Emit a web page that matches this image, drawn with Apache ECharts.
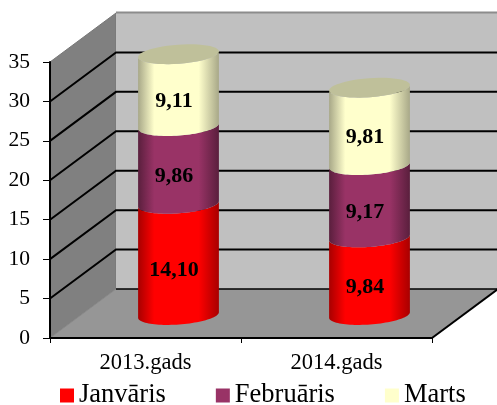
<!DOCTYPE html>
<html><head><meta charset="utf-8">
<style>html,body{margin:0;padding:0;background:#fff}#c{width:497px;height:405px}</style>
<script src="https://cdn.jsdelivr.net/npm/echarts@6/dist/echarts.min.js"></script></head>
<body><div id="c"></div><script>
const categories = ['2013.gads', '2014.gads'];
const janvaris = [14.10, 9.84];
const februaris = [9.86, 9.17];
const marts = [9.11, 9.81];
const labelsJan = ['14,10', '9,84'];
const labelsFeb = ['9,86', '9,17'];
const labelsMar = ['9,11', '9,81'];
const yTicks = [0, 5, 10, 15, 20, 25, 30, 35];

const FONT = '"Liberation Serif","Times New Roman",serif';
const DX = 66, DY = 49;          // depth of the 3D box
const CX = 33, CY = 23;          // cylinder centre offset inside the box
const RX = 40.5, RY = 9.5, TILT = 4.2 * Math.PI / 180;

function ePoint(cx, cy, t) {
  const x = RX * Math.cos(t), y = RY * Math.sin(t);
  return [cx + x * Math.cos(TILT) + y * Math.sin(TILT), cy - x * Math.sin(TILT) + y * Math.cos(TILT)];
}
function arc(cx, cy, from, to) {
  const pts = [];
  for (let i = 0; i <= 48; i++) pts.push(ePoint(cx, cy, from + (to - from) * i / 48));
  return pts;
}
function cylGrad(edge, mid) {
  return { type: 'linear', x: 0, y: 0, x2: 1, y2: 0, colorStops: [
    { offset: 0, color: edge }, { offset: 0.2, color: mid }, { offset: 0.5, color: mid },
    { offset: 0.75, color: mid }, { offset: 1, color: edge }] };
}
function segment(values, bases, labels, edge, mid, cap) {
  return function (params, api) {
    const i = params.dataIndex;
    const p0 = api.coord([categories[i], bases[i]]);
    const p1 = api.coord([categories[i], bases[i] + values[i]]);
    const cx = p0[0] + CX, yb = p0[1] - CY, yt = p1[1] - CY;
    const children = [{
      type: 'polygon',
      shape: { points: arc(cx, yt, Math.PI, 0).concat(arc(cx, yb, 0, Math.PI)) },
      style: { fill: cylGrad(edge, mid) }
    }];
    if (cap) children.push({
      type: 'polygon', shape: { points: arc(cx, yt, 0, 2 * Math.PI) }, style: { fill: cap }
    });
    children.push({
      type: 'text', z2: 10,
      style: { x: cx - 4.5, y: (yb + yt) / 2 + 11, text: labels[i], align: 'center', verticalAlign: 'middle',
        font: 'bold 22px ' + FONT, fill: '#000' }
    });
    return { type: 'group', children };
  };
}
function frame(params, api) {
  const band = api.size([1, 0])[0];
  const o = api.coord([categories[0], 0]);
  const top = api.coord([categories[0], 35])[1];
  const x0 = o[0] - band / 2, x1 = x0 + band * categories.length, y0 = o[1];
  const children = [
    { type: 'polygon', shape: { points: [[x0, y0], [x0, top], [x0 + DX, top - DY], [x0 + DX, y0 - DY]] },
      style: { fill: '#808080', stroke: '#777', lineWidth: 1 } },
    { type: 'rect', shape: { x: x0 + DX, y: top - DY, width: x1 - x0, height: y0 - top },
      style: { fill: '#c0c0c0' } },
    { type: 'polygon', shape: { points: [[x0, y0], [x1, y0], [x1 + DX, y0 - DY], [x0 + DX, y0 - DY]] },
      style: { fill: '#969696' } },
    { type: 'line', shape: { x1: x0 + DX, y1: top - DY - 0.5, x2: x1 + DX, y2: top - DY - 0.5 },
      style: { stroke: '#8c8c8c', lineWidth: 2 } },
    { type: 'line', shape: { x1: x1, y1: y0, x2: x1 + DX, y2: y0 - DY }, style: { stroke: '#000', lineWidth: 2 } },
    { type: 'line', shape: { x1: x0, y1: y0, x2: x0 + DX, y2: y0 - DY }, style: { stroke: '#8a8a8a', lineWidth: 1 } }
  ];
  yTicks.forEach(t => {
    if (t === 0 || t === 35) return;
    const y = api.coord([categories[0], t])[1];
    children.push({ type: 'polyline', shape: { points: [[x0, y], [x0 + DX, y - DY], [x1 + DX, y - DY]] },
      style: { fill: 'none', stroke: '#000', lineWidth: 2 } });
  });
  children.push({ type: 'line', shape: { x1: x0 + DX, y1: y0 - DY, x2: x1 + DX, y2: y0 - DY },
    style: { stroke: '#000', lineWidth: 1.5 } });
  return { type: 'group', children };
}
const basesFeb = janvaris.slice();
const basesMar = janvaris.map((v, i) => v + februaris[i]);
const zeros = janvaris.map(() => 0);

const chart = echarts.init(document.getElementById('c'), null, { renderer: 'canvas' });
chart.setOption({
  animation: false,
  backgroundColor: '#fff',
  grid: { left: 50, top: 62, width: 382, height: 276 },
  legend: {
    data: ['Janvāris', 'Februāris', 'Marts'], left: 55, top: 377, itemWidth: 14, itemHeight: 14, itemGap: 50,
    icon: 'rect', textStyle: { fontFamily: FONT, fontSize: 26.5, color: '#000', padding: [0, 0, 0, 0] }
  },
  xAxis: {
    type: 'category', data: categories, boundaryGap: true,
    axisLine: { show: true, lineStyle: { color: '#000', width: 2 } },
    axisTick: { show: true, length: 5, lineStyle: { color: '#000', width: 1 } },
    axisLabel: { fontFamily: FONT, fontSize: 22.5, color: '#000', margin: 14 },
    z: 3
  },
  yAxis: {
    type: 'value', min: 0, max: 35, interval: 5, splitLine: { show: false },
    axisLine: { show: true, lineStyle: { color: '#000', width: 2 } },
    axisTick: { show: true, length: 7, lineStyle: { color: '#000', width: 1 } },
    axisLabel: { fontFamily: FONT, fontSize: 21.5, color: '#000', margin: 20, padding: [4, 0, 0, 0] },
    z: 3
  },
  series: [
    { type: 'custom', name: 'frame', silent: true, z: 1, data: [[categories[0], 0]], renderItem: frame, encode: { x: 0, y: 1 } },
    { type: 'custom', name: 'Janvāris', z: 2, itemStyle: { color: '#ff0000' }, encode: { x: 0, y: 1 },
      data: categories.map((c, i) => [c, janvaris[i]]),
      renderItem: segment(janvaris, zeros, labelsJan, '#a80000', '#ff0000') },
    { type: 'custom', name: 'Februāris', z: 2, itemStyle: { color: '#993366' }, encode: { x: 0, y: 1 },
      data: categories.map((c, i) => [c, februaris[i]]),
      renderItem: segment(februaris, basesFeb, labelsFeb, '#5a1f3d', '#993366') },
    { type: 'custom', name: 'Marts', z: 2, itemStyle: { color: '#ffffcc' }, encode: { x: 0, y: 1 },
      data: categories.map((c, i) => [c, marts[i]]),
      renderItem: segment(marts, basesMar, labelsMar, '#a8a888', '#ffffcc', '#bfc09a') }
  ]
});
</script></body></html>
